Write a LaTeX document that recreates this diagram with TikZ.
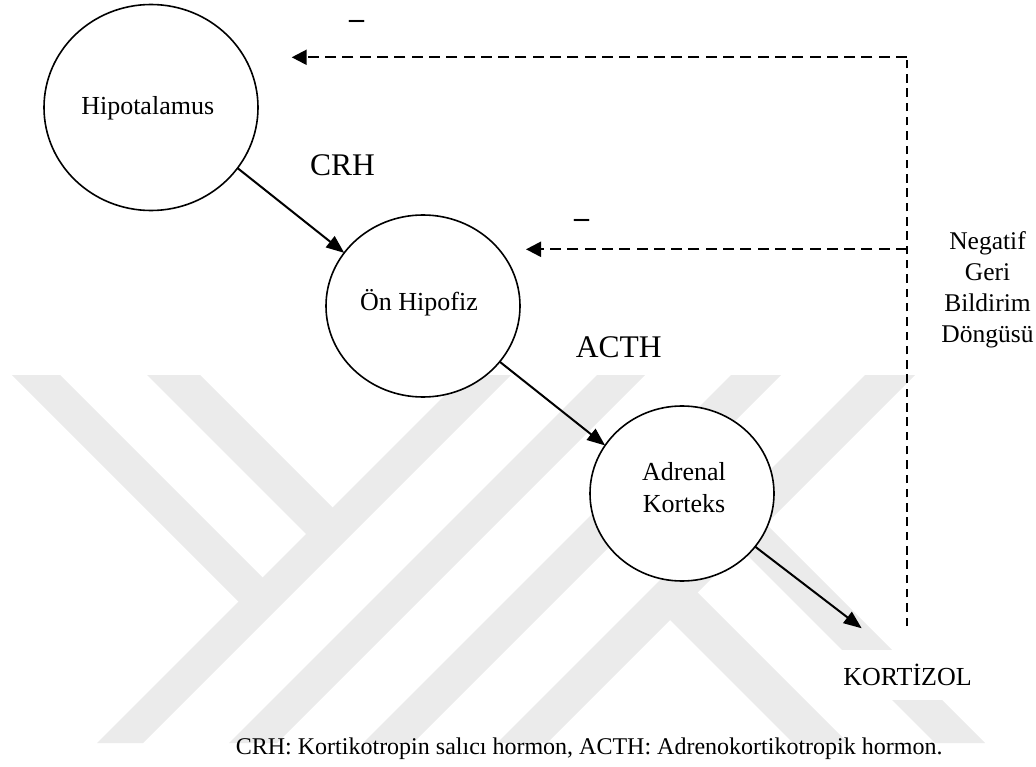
\documentclass[tikz,border=0pt]{standalone}
\usepackage{fontspec}
\setmainfont{Liberation Serif}
\usetikzlibrary{arrows.meta,shapes.geometric}
\begin{document}
\begin{tikzpicture}[x=1pt,y=-1pt,
  organ/.style={ellipse,draw,line width=1.6pt,fill=white,inner sep=0pt,outer sep=0pt},
  organtext/.style={font=\fontsize{26}{32}\selectfont,inner sep=0pt,align=center},
  hormone/.style={font=\fontsize{31.5}{36}\selectfont,inner sep=0pt,anchor=base},
  flow/.style={line width=2pt,-{Triangle[length=18pt,width=14pt]}},
  feedback/.style={line width=2.2pt,dash pattern=on 11pt off 6.3pt},
  feedbackarrow/.style={feedback,-{Triangle[length=15pt,width=15pt]}},
  feedbackv/.style={line width=1.6pt,dash pattern=on 8.5pt off 5.8pt},
  minussign/.style={font=\fontsize{30}{36}\selectfont\bfseries,inner sep=0pt,anchor=base},
  plaintext/.style={inner sep=0pt},
  wm/.style={fill=black!8,draw=none}
]
\useasboundingbox (0,0) rectangle (1036,767);
% faint watermark
\begin{scope}
\clip (0,375) rectangle (1036,743);
\fill[wm] (465,375) -- (511,375) -- (143,743) -- (97,743) -- cycle;
\fill[wm] (597,375) -- (645,375) -- (277,743) -- (229,743) -- cycle;
\fill[wm] (731,375) -- (781,375) -- (413,743) -- (363,743) -- cycle;
\fill[wm] (865,375) -- (915,375) -- (547,743) -- (497,743) -- cycle;
\fill[wm] (12,375) -- (60,375) -- (274,589) -- (250,613) -- cycle;
\fill[wm] (147,375) -- (200,375) -- (344,519) -- (317.5,545.5) -- cycle;
\fill[wm] (657.5,607.5) -- (685,580) -- (848,743) -- (793,743) -- cycle;
\fill[wm] (728.5,536.5) -- (753.5,511.5) -- (985,743) -- (935,743) -- cycle;
\end{scope}
\fill[white] (841,650) rectangle (976,700);

% organs
\node[organ, minimum width=214pt, minimum height=206pt] (hyp) at (151,107.5) {};
\node[organtext, anchor=base] (hyptxt) at (147.7,114.3) {Hipotalamus};
\node[organ, minimum width=194pt, minimum height=182pt] (onh) at (423,306) {};
\node[organtext, anchor=base] (onhtxt) at (419,310.7) {Ön Hipofiz};
\node[organ, minimum width=184pt, minimum height=175pt] (adr) at (682,493.5) {};
\node[organtext] (adrtxt) at (684,488) {Adrenal\\Korteks};

% hormone arrows
\coordinate (kend) at (861.7,628.3);
\draw[flow] (hyp.-35.5) -- (onh.146);
\draw[flow] (onh.-36.6) -- (adr.148);
\draw[flow] (adr.-36) -- (kend);
\node[hormone] (crh) at (342.5,176) {CRH};
\node[hormone] (acth) at (618.7,357.3) {ACTH};
\node[plaintext, font=\fontsize{26}{30}\selectfont, anchor=base] (kort) at (907.5,685) {KORTİZOL};

% negative feedback loop
\coordinate (fbtop) at (907,57.3);
\coordinate (fbmid) at (907,249.3);
\coordinate (fbbot) at (907,626);
\coordinate (tip1) at (291.7,57.3);
\coordinate (tip2) at (526,249.3);
\draw[feedbackv] (fbbot) -- (fbtop);
\draw[feedbackarrow] (fbtop) -- (tip1);
\draw[feedbackarrow] (fbmid) -- (tip2);
\node[minussign] (m1) at (356.5,28.4) {–};
\node[minussign] (m2) at (581.5,228) {–};
\node[plaintext, font=\fontsize{25.5}{30.8}\selectfont, align=center] (loop) at (987.5,289.6) {Negatif\\Geri\\Bildirim\\Döngüsü};

% caption
\node[plaintext, font=\fontsize{24}{28}\selectfont, anchor=base] (caption) at (589.2,754) {CRH: Kortikotropin salıcı hormon, ACTH: Adrenokortikotropik hormon.};
\end{tikzpicture}
\end{document}
